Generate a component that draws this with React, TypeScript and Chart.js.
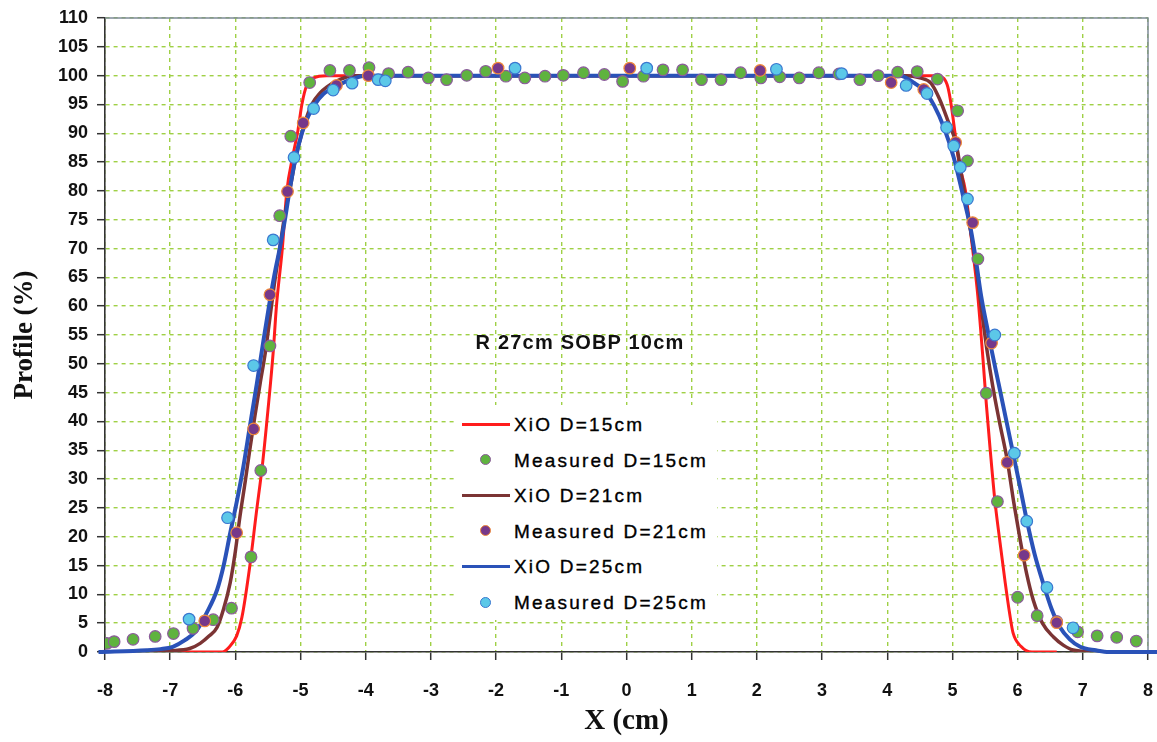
import React, { useEffect, useRef } from "react";
import { Chart, registerables } from "chart.js";
Chart.register(...registerables);

// XiO calculated profiles
const xio15X = [-7.1, -6.2, -6.1, -5.98, -5.9, -5.78, -5.68, -5.58, -5.5, -5.42, -5.37, -5.28, -5.21, -5.12, -5.04, -4.98, -4.9, -4.8, -4.6, 4.75, 4.87, 4.93, 4.98, 5.04, 5.1, 5.2, 5.26, 5.33, 5.39, 5.47, 5.52, 5.58, 5.65, 5.73, 5.81, 5.88, 5.93, 6.05, 6.22, 6.6];
const xio15Y = [0, 0, 0.8, 2.8, 6, 14.8, 24, 33, 42, 52, 60, 70, 80, 86, 90.5, 95, 98.5, 99.6, 100, 100, 99.5, 98, 95, 90, 85, 80, 74.6, 68, 61.7, 50.6, 43, 35, 26.4, 19, 12, 6.5, 3.3, 1, 0, 0];

const xio21X = [-7.35, -7.0, -6.7, -6.54, -6.4, -6.28, -6.18, -6.08, -6.0, -5.93, -5.85, -5.78, -5.7, -5.62, -5.54, -5.47, -5.4, -5.32, -5.24, -5.16, -5.07, -4.98, -4.9, -4.83, -4.7, -4.6, -4.4, -4.2, 4.3, 4.5, 4.67, 4.8, 4.93, 5.06, 5.15, 5.25, 5.35, 5.44, 5.53, 5.62, 5.72, 5.84, 5.94, 6.04, 6.14, 6.24, 6.38, 6.55, 6.7, 6.85, 7.2];
const xio21Y = [0, 0.2, 0.6, 1.5, 2.8, 4.3, 7.5, 12, 17.5, 23.5, 29.5, 35, 41, 46.6, 52, 58, 64, 70, 76, 80.5, 86, 90, 93, 95, 97, 98, 99.3, 100, 100, 99.6, 98.7, 96, 92.2, 88, 82, 75, 68, 60, 52.4, 46, 40, 33.3, 26, 19.4, 13.5, 9, 5, 2.6, 1.2, 0.35, 0];

const xio25X = [-8.1, -7.36, -7.15, -6.96, -6.78, -6.59, -6.44, -6.28, -6.18, -6.08, -5.98, -5.88, -5.78, -5.67, -5.57, -5.47, -5.4, -5.32, -5.24, -5.17, -5.08, -4.98, -4.88, -4.78, -4.65, -4.5, -4.3, -4.0, 4.2, 4.4, 4.56, 4.72, 4.87, 5.02, 5.16, 5.28, 5.36, 5.44, 5.52, 5.6, 5.7, 5.82, 5.93, 6.04, 6.14, 6.26, 6.39, 6.52, 6.65, 6.8, 6.96, 7.2, 7.4, 8.15];
const xio25Y = [0, 0.3, 0.5, 0.9, 2, 3.8, 6.8, 10.8, 15, 20.6, 26, 32, 39, 46.6, 54, 61, 65.5, 70, 75, 80, 85.5, 90, 93, 95, 96.8, 97.8, 99, 100, 100, 98.8, 97.5, 94.8, 91, 85.8, 79.3, 73.4, 68, 61.8, 57, 52.4, 47, 40.5, 34.5, 28.5, 22.9, 17, 12, 7.5, 4.3, 2.2, 0.9, 0.3, 0, 0];

// Measured profiles
const meas15X = [-7.97, -7.86, -7.57, -7.23, -6.95, -6.65, -6.34, -6.06, -5.76, -5.61, -5.47, -5.32, -5.15, -4.86, -4.55, -4.25, -3.95, -3.65, -3.35, -3.04, -2.76, -2.45, -2.16, -1.85, -1.56, -1.25, -0.97, -0.66, -0.34, -0.06, 0.26, 0.56, 0.86, 1.15, 1.45, 1.75, 2.06, 2.35, 2.65, 2.95, 3.26, 3.58, 3.86, 4.16, 4.46, 4.77, 5.08, 5.23, 5.39, 5.52, 5.69, 6.0, 6.3, 6.6, 6.92, 7.22, 7.52, 7.82];
const meas15Y = [1.5, 1.8, 2.2, 2.7, 3.2, 4.1, 5.6, 7.6, 16.5, 31.5, 53.1, 75.7, 89.5, 98.8, 100.9, 100.9, 101.4, 100.35, 100.6, 99.6, 99.3, 100.05, 100.75, 99.9, 99.6, 99.9, 100.05, 100.5, 100.2, 99.0, 99.9, 101.0, 101.0, 99.3, 99.3, 100.5, 99.6, 99.8, 99.6, 100.5, 100.3, 99.3, 100.0, 100.6, 100.7, 99.4, 93.9, 85.2, 68.2, 44.9, 26.1, 9.5, 6.3, 5.3, 3.5, 2.8, 2.55, 1.9];

const meas21X = [-6.47, -5.98, -5.72, -5.47, -5.2, -4.96, -4.45, -3.96, -1.97, 0.05, 2.05, 4.06, 4.56, 5.05, 5.31, 5.6, 5.84, 6.1, 6.6];
const meas21Y = [5.4, 20.7, 38.7, 62, 79.9, 91.8, 98.3, 100, 101.3, 101.3, 100.9, 98.8, 97.6, 88.4, 74.5, 53.6, 32.9, 16.8, 5.1];

const meas25X = [-6.71, -6.12, -5.72, -5.42, -5.1, -4.8, -4.5, -4.21, -3.81, -3.7, -1.71, 0.31, 2.3, 3.3, 4.29, 4.61, 4.91, 5.02, 5.12, 5.23, 5.65, 5.95, 6.14, 6.45, 6.85];
const meas25Y = [5.7, 23.3, 49.7, 71.5, 85.8, 94.3, 97.5, 98.7, 99.3, 99.1, 101.3, 101.3, 101.1, 100.35, 98.3, 96.9, 91.0, 87.8, 84.1, 78.6, 55.0, 34.5, 22.7, 11.2, 4.2];

const seriesNames = ["XiO D=15cm", "Measured D=15cm", "XiO D=21cm", "Measured D=21cm", "XiO D=25cm", "Measured D=25cm"];
const xTickMin = -8, xTickMax = 8, yTickMin = 0, yTickMax = 110;
const annotationText = "R 27cm SOBP 10cm";

const RED = "#ff1c1c";
const BROWN = "#7b3434";
const BLUE = "#2a52b8";
const GREEN_FILL = "#5fb33f";
const GREEN_EDGE = "#8c5c9c";
const PURPLE_FILL = "#76388a";
const PURPLE_EDGE = "#f08a3c";
const CYAN_FILL = "#5cc8e8";
const CYAN_EDGE = "#3a78d0";
const GRID = "#9fd045";

const zip = (xs: number[], ys: number[]) => xs.map((x, i) => ({ x, y: ys[i] }));

const framePlugin = {
  id: "frame",
  beforeDatasetsDraw(chart: any) {
    const { ctx, chartArea } = chart;
    ctx.save();
    ctx.strokeStyle = "#7d8a98";
    ctx.lineWidth = 1.5;
    ctx.beginPath();
    ctx.moveTo(chartArea.left, chartArea.top);
    ctx.lineTo(chartArea.right, chartArea.top);
    ctx.lineTo(chartArea.right, chartArea.bottom);
    ctx.stroke();
    ctx.restore();
  },
};

export default function App() {
  const ref = useRef<HTMLCanvasElement | null>(null);
  useEffect(() => {
    if (!ref.current) return;
    const lineDs = (label: string, xs: number[], ys: number[], color: string, w: number, order: number, clip: any = undefined) => ({
      label,
      data: zip(xs, ys),
      showLine: true,
      borderColor: color,
      backgroundColor: color,
      borderWidth: w,
      pointRadius: 0,
      cubicInterpolationMode: "monotone" as const,
      order,
      ...(clip !== undefined ? { clip } : {}),
    });
    const ptDs = (label: string, xs: number[], ys: number[], fill: string, edge: string, order: number) => ({
      label,
      data: zip(xs, ys),
      showLine: false,
      backgroundColor: fill,
      borderColor: edge,
      pointBorderWidth: 1.2,
      pointRadius: 5.8,
      order,
    });
    const chart = new Chart(ref.current, {
      type: "scatter",
      data: {
        datasets: [
          lineDs(seriesNames[0], xio15X, xio15Y, RED, 3, 5),
          ptDs(seriesNames[1], meas15X, meas15Y, GREEN_FILL, GREEN_EDGE, 2),
          lineDs(seriesNames[2], xio21X, xio21Y, BROWN, 3.5, 4),
          ptDs(seriesNames[3], meas21X, meas21Y, PURPLE_FILL, PURPLE_EDGE, 1),
          lineDs(seriesNames[4], xio25X, xio25Y, BLUE, 4, 3, false),
          ptDs(seriesNames[5], meas25X, meas25Y, CYAN_FILL, CYAN_EDGE, 0),
        ] as any,
      },
      options: {
        responsive: false,
        animation: false,
        layout: { padding: { top: 18, right: 9, left: 0, bottom: 0 } },
        plugins: { legend: { display: false }, tooltip: { enabled: false } },
        scales: {
          x: {
            type: "linear",
            min: xTickMin,
            max: xTickMax,
            afterFit: (s: any) => { s.height = 90; s.paddingLeft = 0; s.paddingRight = 0; },
            ticks: {
              stepSize: 1,
              padding: 20,
              color: "#111",
              font: { family: "Liberation Sans", size: 18, weight: "bold" },
            },
            grid: {
              color: GRID,
              lineWidth: 1.4,
              tickColor: "#333",
              tickWidth: 1.5,
              tickLength: 8,
              tickBorderDash: [],
            } as any,
            border: { display: true, color: "#333", width: 1.6, dash: [4, 4] } as any,
            title: {
              display: true,
              text: "X (cm)",
              color: "#111",
              font: { family: "Liberation Serif", size: 29, weight: "bold" },
              padding: { top: 0, bottom: 3 },
            },
          },
          y: {
            type: "linear",
            min: yTickMin,
            max: yTickMax,
            afterFit: (s: any) => { s.width = 105; s.paddingTop = 0; s.paddingBottom = 0; },
            ticks: {
              stepSize: 5,
              padding: 9,
              color: "#111",
              font: { family: "Liberation Sans", size: 18, weight: "bold" },
            },
            grid: {
              color: GRID,
              lineWidth: 1.4,
              tickColor: "#333",
              tickWidth: 1.5,
              tickLength: 8,
              tickBorderDash: [],
            } as any,
            border: { display: true, color: "#333", width: 1.6, dash: [4, 4] } as any,
            title: {
              display: true,
              text: "Profile (%)",
              color: "#111",
              font: { family: "Liberation Serif", size: 27, weight: "bold" },
              padding: { top: 9, bottom: 0 },
            },
          },
        },
      },
      plugins: [framePlugin],
    });
    return () => chart.destroy();
  }, []);

  const rowTop = 19;
  const rowStep = 35.6;
  const legendKinds: Array<{ kind: "line" | "dot"; color: string; edge?: string }> = [
    { kind: "line", color: RED },
    { kind: "dot", color: GREEN_FILL, edge: GREEN_EDGE },
    { kind: "line", color: BROWN },
    { kind: "dot", color: PURPLE_FILL, edge: PURPLE_EDGE },
    { kind: "line", color: BLUE },
    { kind: "dot", color: CYAN_FILL, edge: CYAN_EDGE },
  ];

  return (
    <div style={{ position: "fixed", left: 0, top: 0, width: 1157, height: 742, background: "#fff", overflow: "hidden" }}>
      <canvas ref={ref} width={1157} height={742} style={{ display: "block", width: 1157, height: 742 }} />
      <div
        style={{
          position: "absolute",
          left: 580,
          top: 342,
          transform: "translate(-50%, -50%)",
          whiteSpace: "nowrap",
          fontFamily: "Liberation Sans",
          fontWeight: "bold",
          fontSize: 20,
          letterSpacing: "1.2px",
          color: "#111",
          lineHeight: 1,
        }}
      >
        {annotationText}
      </div>
      <div style={{ position: "absolute", left: 455, top: 405, width: 262, height: 215, background: "#fff" }}>
        {legendKinds.map((k, i) => {
          const cy = rowTop + i * rowStep;
          return (
            <React.Fragment key={i}>
              {k.kind === "line" ? (
                <div style={{ position: "absolute", left: 7, top: cy - 1.5, width: 48, height: 3, background: k.color }} />
              ) : (
                <div
                  style={{
                    position: "absolute",
                    left: 25,
                    top: cy - 5.5,
                    width: 9,
                    height: 9,
                    borderRadius: "50%",
                    background: k.color,
                    border: `1.2px solid ${k.edge}`,
                  }}
                />
              )}
              <div
                style={{
                  position: "absolute",
                  left: 59,
                  top: cy,
                  transform: "translateY(-50%)",
                  whiteSpace: "nowrap",
                  fontFamily: "Liberation Sans",
                  fontSize: 19,
                  letterSpacing: "2.2px",
                  color: "#000",
                  WebkitTextStroke: "0.35px #000",
                  lineHeight: 1,
                } as any}
              >
                {seriesNames[i]}
              </div>
            </React.Fragment>
          );
        })}
      </div>
    </div>
  );
}
